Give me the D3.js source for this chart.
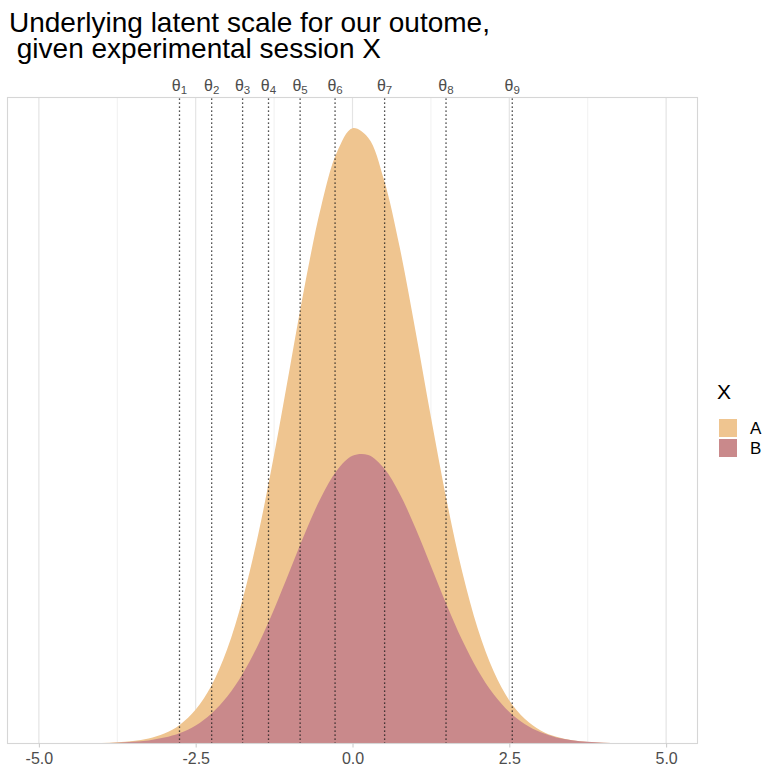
<!DOCTYPE html>
<html>
<head>
<meta charset="utf-8">
<script src="https://cdn.jsdelivr.net/npm/d3@7"></script>
<style>
  body { margin: 0; background: #fff; }
  svg { display: block; font-family: "Liberation Sans", Arial, sans-serif; }
</style>
</head>
<body>
<svg id="chart" width="764" height="772"></svg>
<script>
// ---- data ----
const xGrid = [-4.5,-4.25,-4,-3.75,-3.5,-3.25,-3,-2.75,-2.5,-2.25,-2,-1.75,-1.5,-1.25,-1,-0.75,-0.5,-0.25,0,
               0.25,0.5,0.75,1,1.25,1.5,1.75,2,2.25,2.5,2.75,3,3.25,3.5,3.75,4,4.25,4.5];
const densityA = [0.0000,0.0001,0.0003,0.0007,0.0015,0.0031,0.0061,0.0115,0.0207,0.0353,0.0574,0.0882,0.1282,0.1762,0.2291,0.2818,0.3278,0.3607,0.3755,
                  0.3697,0.3443,0.3033,0.2527,0.1992,0.1485,0.1047,0.0698,0.0441,0.0263,0.0149,0.0080,0.0041,0.0020,0.0009,0.0004,0.0002,0.0000];
const densityB = [0.0000,0.0001,0.0002,0.0005,0.0010,0.0019,0.0036,0.0064,0.0110,0.0182,0.0285,0.0426,0.0606,0.0820,0.1054,0.1291,0.1503,0.1666,0.1756,
                  0.1761,0.1681,0.1526,0.1318,0.1083,0.0847,0.0630,0.0446,0.0300,0.0192,0.0117,0.0068,0.0037,0.0020,0.0010,0.0005,0.0002,0.0001];
const groups = ["A", "B"];
const groupColors = ["#EFC590", "#C9898B"];
const thresholds = [-2.758, -2.245, -1.752, -1.339, -0.835, -0.278, 0.512, 1.491, 2.547];
const xTicks = [-5, -2.5, 0, 2.5, 5];
const xMinor = [-3.75, -1.25, 1.25, 3.75];
const titleLines = ["Underlying latent scale for our outome,", " given experimental session X"];
const legendTitle = "X";

// ---- layout ----
const svg = d3.select("#chart");
const panel = { left: 7.5, right: 697.5, top: 97.5, bottom: 743.5 };

const x = d3.scaleLinear().domain([-5.5, 5.5]).range([panel.left, panel.right]);
const yMax = d3.max(densityA.concat(densityB));
const y = d3.scaleLinear().domain([0, yMax * 1.05]).range([panel.bottom, panel.top]);

// gridlines
svg.append("g").selectAll("line").data(xMinor).join("line")
  .attr("x1", d => x(d)).attr("x2", d => x(d))
  .attr("y1", panel.top).attr("y2", panel.bottom)
  .attr("stroke", "#eeeeee").attr("stroke-width", 0.9);
svg.append("g").selectAll("line").data(xTicks).join("line")
  .attr("x1", d => x(d)).attr("x2", d => x(d))
  .attr("y1", panel.top).attr("y2", panel.bottom)
  .attr("stroke", "#e4e4e4").attr("stroke-width", 1.2);

// densities
const series = [densityA, densityB];
const area = d3.area()
  .x((d, i) => x(xGrid[i]))
  .y0(y(0))
  .y1(d => y(d))
  .curve(d3.curveCatmullRom.alpha(0.5));
svg.append("g").selectAll("path").data(series).join("path")
  .attr("d", d => area(d))
  .attr("fill", (d, i) => groupColors[i]);

// thresholds
svg.append("g").selectAll("line").data(thresholds).join("line")
  .attr("x1", d => x(d)).attr("x2", d => x(d))
  .attr("y1", panel.top + 1).attr("y2", panel.bottom)
  .attr("stroke", "#1a1a1a").attr("stroke-width", 1.3)
  .attr("stroke-dasharray", "1.2,2.8");

// panel border
svg.append("rect")
  .attr("x", panel.left).attr("y", panel.top)
  .attr("width", panel.right - panel.left).attr("height", panel.bottom - panel.top)
  .attr("fill", "none").attr("stroke", "#d6d6d6").attr("stroke-width", 1.1);

// bottom axis
const xAxis = d3.axisBottom(x).tickValues(xTicks).tickFormat(d3.format(".1f")).tickSize(4).tickPadding(5);
const gx = svg.append("g").attr("transform", `translate(0,${panel.bottom})`).call(xAxis);
gx.select(".domain").remove();
gx.selectAll(".tick line").attr("stroke", "#c8c8c8");
gx.selectAll(".tick text").attr("fill", "#4d4d4d").attr("font-size", 16)
  .attr("font-family", "'Liberation Sans', Arial, sans-serif")
  .text(d => d3.format(".1f")(d).replace("\u2212", "-"));

// top threshold labels
const tl = svg.append("g").selectAll("text").data(thresholds).join("text")
  .attr("x", d => x(d)).attr("y", 91)
  .attr("text-anchor", "middle")
  .attr("fill", "#4d4d4d").attr("font-size", 16);
tl.append("tspan").text("θ");
tl.append("tspan").attr("font-size", 11.5).attr("dy", 3).text((d, i) => i + 1);

// title
svg.append("g").selectAll("text").data(titleLines).join("text")
  .attr("x", 9).attr("y", (d, i) => 32 + i * 26)
  .attr("font-size", 28).attr("fill", "#000")
  .style("white-space", "pre")
  .text(d => d);

// legend
const lg = svg.append("g");
lg.append("text").attr("x", 717).attr("y", 399).attr("font-size", 21).attr("fill", "#000").text(legendTitle);
const items = lg.selectAll("g.item").data(groups).join("g").attr("class", "item")
  .attr("transform", (d, i) => `translate(719,${419 + i * 20})`);
items.append("rect").attr("width", 18).attr("height", 18)
  .attr("fill", (d, i) => groupColors[i]);
items.append("text").attr("x", 31).attr("y", 9).attr("dy", "0.36em")
  .attr("font-size", 17).attr("fill", "#000").text(d => d);
</script>
</body>
</html>
